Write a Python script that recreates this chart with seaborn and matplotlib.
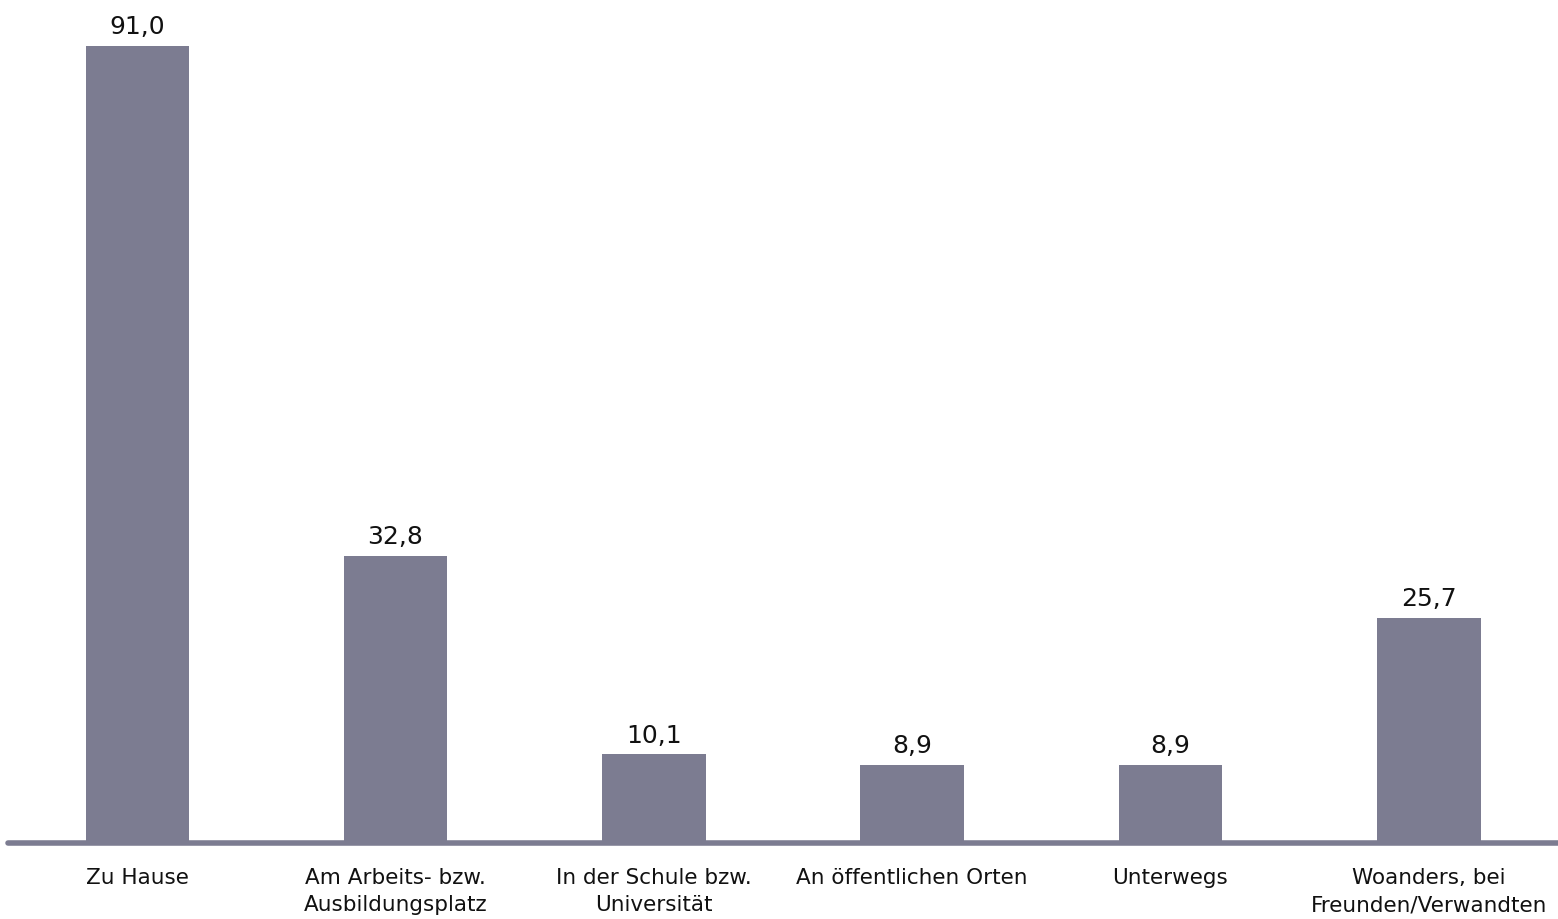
import seaborn as sns
import matplotlib.pyplot as plt
import pandas as pd

sns.set_theme(style="white")
plt.rcParams['font.family'] = ['DejaVu Sans']

categories = ["Zu Hause", "Am Arbeits- bzw.\nAusbildungsplatz", "In der Schule bzw.\nUniversität",
              "An öffentlichen Orten", "Unterwegs", "Woanders, bei\nFreunden/Verwandten"]
values = [91.0, 32.8, 10.1, 8.9, 8.9, 25.7]
value_labels = ["91,0", "32,8", "10,1", "8,9", "8,9", "25,7"]

bar_color = "#7c7c91"

df = pd.DataFrame({"ort": categories, "anteil": values})

fig = plt.figure(figsize=(15.58, 9.19), dpi=100)
ax = fig.add_axes([8 / 1558, 76 / 919, 1 - 8 / 1558, 1 - 76 / 919])

sns.barplot(data=df, x="ort", y="anteil", color=bar_color, width=0.4,
            saturation=1, linewidth=0, ax=ax)

ax.set_xlim(-0.5, 5.5)
ax.set_ylim(0, 96.2)

for i, (v, lab) in enumerate(zip(values, value_labels)):
    ax.annotate(lab, (i, v), xytext=(0, 5), textcoords="offset points",
                ha="center", va="bottom", fontsize=18, color="#111111")

ax.set_xlabel("")
ax.set_ylabel("")
ax.set_yticks([])
ax.tick_params(axis="x", length=0, pad=18, labelsize=15.5, colors="#111111")
for t in ax.get_xticklabels():
    t.set_linespacing(1.45)
for sp in ["top", "right", "left"]:
    ax.spines[sp].set_visible(False)
ax.spines["bottom"].set_color(bar_color)
ax.spines["bottom"].set_linewidth(4)
ax.spines["bottom"].set_capstyle("round")

fig.savefig("out.png", dpi=100)
